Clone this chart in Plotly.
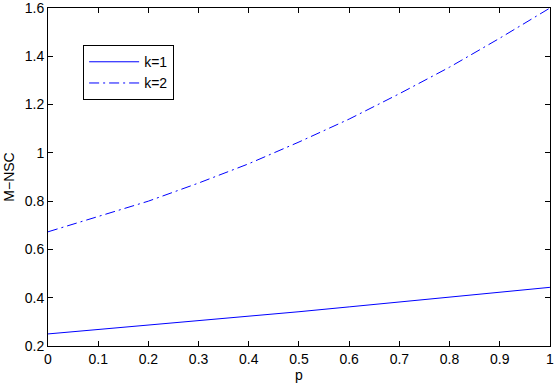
import plotly.graph_objects as go

# ================================ Datos ================================
p = [0, 0.1, 0.2, 0.3, 0.4, 0.5, 0.6, 0.7, 0.8, 0.9, 1.0]
msc_k1 = [0.250, 0.268, 0.286, 0.304, 0.323, 0.342, 0.362, 0.383, 0.404, 0.423, 0.443]
msc_k2 = [0.673, 0.735, 0.800, 0.875, 0.955, 1.045, 1.140, 1.245, 1.355, 1.475, 1.600]

x_ticks = [0, 0.1, 0.2, 0.3, 0.4, 0.5, 0.6, 0.7, 0.8, 0.9, 1]
x_labels = ['0', '0.1', '0.2', '0.3', '0.4', '0.5', '0.6', '0.7', '0.8', '0.9', '1']
y_ticks = [0.2, 0.4, 0.6, 0.8, 1.0, 1.2, 1.4, 1.6]
y_labels = ['0.2', '0.4', '0.6', '0.8', '1', '1.2', '1.4', '1.6']

FONT = 'Liberation Sans, Arial, Helvetica, sans-serif'


# ================================ Gráfico ================================
def configure_axes(fig):
    common = dict(
        showline=True, linecolor='black', linewidth=1, mirror='ticks',
        ticks='inside', ticklen=5, tickcolor='black', tickwidth=1,
        showgrid=False, zeroline=False, ticklabeloverflow='allow',
        tickfont=dict(size=14, color='black', family=FONT),
    )
    fig.update_xaxes(range=[0, 1.0001], tickvals=x_ticks, ticktext=x_labels,
                     title=dict(text='p', font=dict(size=14, color='black', family=FONT), standoff=1),
                     **common)
    fig.update_yaxes(range=[0.2, 1.6001], tickvals=y_ticks, ticktext=y_labels,
                     title=dict(text='M\u2212NSC', font=dict(size=14, color='black', family=FONT), standoff=6),
                     **common)
    return fig


fig = go.Figure()
fig.add_trace(go.Scatter(x=p, y=msc_k1, mode='lines', name='k=1',
                         line=dict(color='blue', width=1)))
fig.add_trace(go.Scatter(x=p, y=msc_k2, mode='lines', name='k=2',
                         line=dict(color='blue', width=1, dash='10px,4px,2px,4px')))

fig.update_layout(
    width=554,
    height=386,
    margin=dict(l=48, r=4, t=8, b=40, autoexpand=False),
    paper_bgcolor='white',
    plot_bgcolor='white',
    font=dict(family=FONT, size=14, color='black'),
    legend=dict(
        x=0.07, y=0.89, xanchor='left', yanchor='top',
        bgcolor='white', bordercolor='black', borderwidth=1,
        font=dict(size=14, color='black', family=FONT),
        itemwidth=50, tracegroupgap=0,
    ),
)
configure_axes(fig)

# quitar el margen por defecto del <body> para que la figura quepa en la ventana
fig.write_html("out.html", config={'displayModeBar': False},
               post_script="document.body.style.margin='0';")
